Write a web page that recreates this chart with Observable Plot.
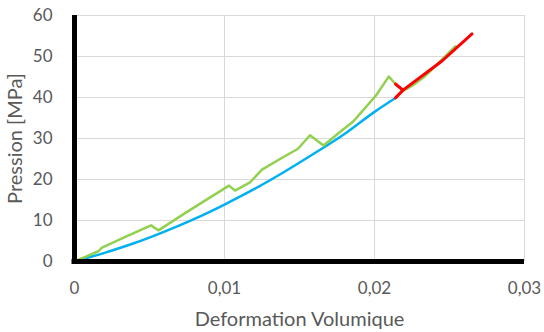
<!DOCTYPE html>
<html>
<head>
<meta charset="utf-8">
<script src="https://cdn.jsdelivr.net/npm/d3@7"></script>
<script src="https://cdn.jsdelivr.net/npm/@observablehq/plot@0.6"></script>
<style>
  html, body { margin: 0; padding: 0; background: #fff; }
  #chart svg { display: block; }
</style>
</head>
<body>
<div id="chart"></div>
<script>
// Blue series
const blueX = [0, 0.002, 0.004, 0.006, 0.008, 0.010, 0.012, 0.014, 0.016, 0.018, 0.020, 0.0214];
const blueY = [0, 2.1, 4.5, 7.3, 10.4, 13.9, 17.7, 21.9, 26.4, 31.1, 36.5, 39.9];

// Green series
const greenX = [0, 0.0016, 0.0018, 0.0035, 0.0051, 0.0056, 0.0075, 0.0103, 0.0107, 0.0117, 0.0125, 0.0137, 0.0149, 0.0157, 0.0166, 0.0177, 0.0186, 0.0191, 0.0201, 0.02095, 0.0214, 0.0219, 0.0225, 0.0233, 0.0241, 0.0254];
const greenY = [0, 2.5, 3.3, 6.2, 8.8, 7.6, 12.1, 18.5, 17.3, 19.3, 22.4, 25.0, 27.5, 30.8, 28.3, 31.6, 34.2, 36.3, 40.5, 45.1, 43.3, 41.6, 42.8, 45.0, 47.8, 52.5];

// Red series (two branches)
const redX = [0.0214, 0.0219, 0.0245, 0.0265, 0.0214, 0.0219];
const redY = [39.9, 41.8, 48.9, 55.5, 43.3, 41.8];
const redBranch = ["a", "a", "a", "a", "b", "b"];

// Ticks
const xTicks = [0, 0.01, 0.02, 0.03];
const yTicks = [0, 10, 20, 30, 40, 50, 60];

const blue = blueX.map((x, i) => ({x, y: blueY[i]}));
const green = greenX.map((x, i) => ({x, y: greenY[i]}));
const red = redX.map((x, i) => ({x, y: redY[i], s: redBranch[i]}));

const fmt = d => d === 0 ? "0" : d.toFixed(2).replace(".", ",");

const chart = Plot.plot({
  width: 544,
  height: 332,
  marginLeft: 74,
  marginRight: 20,
  marginTop: 15,
  marginBottom: 71,
  style: {fontFamily: "Lato, 'Open Sans', sans-serif", fontSize: "17px", color: "#595959", background: "#fff"},
  x: {domain: [0, 0.03]},
  y: {domain: [0, 60]},
  marks: [
    Plot.gridY(yTicks.filter(d => d > 0), {stroke: "#d9d9d9", strokeOpacity: 1, strokeWidth: 1}),
    Plot.gridX(xTicks.filter(d => d > 0), {stroke: "#d9d9d9", strokeOpacity: 1, strokeWidth: 1}),
    Plot.axisX(xTicks, {tickSize: 0, tickPadding: 20, tickFormat: fmt, fontSize: 17, fill: "#595959", label: null}),
    Plot.axisY(yTicks, {tickSize: 0, tickPadding: 22, fontSize: 17, fill: "#595959", label: null}),
    Plot.axisX([], {tickSize: 0, fontSize: 20, fill: "#595959",
      label: "Deformation Volumique", labelAnchor: "center", labelArrow: "none", labelOffset: 64}),
    Plot.axisY([], {tickSize: 0, fontSize: 20, fill: "#595959",
      label: "Pression [MPa]", labelAnchor: "center", labelArrow: "none", labelOffset: 67}),
    Plot.line(blue, {x: "x", y: "y", stroke: "#00b0f0", strokeWidth: 2.5, curve: "monotone-x"}),
    Plot.line(green, {x: "x", y: "y", stroke: "#92d050", strokeWidth: 2.5}),
    Plot.line(red, {x: "x", y: "y", z: "s", stroke: "#ff0000", strokeWidth: 3}),
    Plot.ruleY([0], {stroke: "#000", strokeWidth: 5, insetLeft: -2.5}),
    Plot.ruleX([0], {stroke: "#000", strokeWidth: 5, insetBottom: -2.5})
  ]
});
document.getElementById("chart").append(chart);
</script>
</body>
</html>
